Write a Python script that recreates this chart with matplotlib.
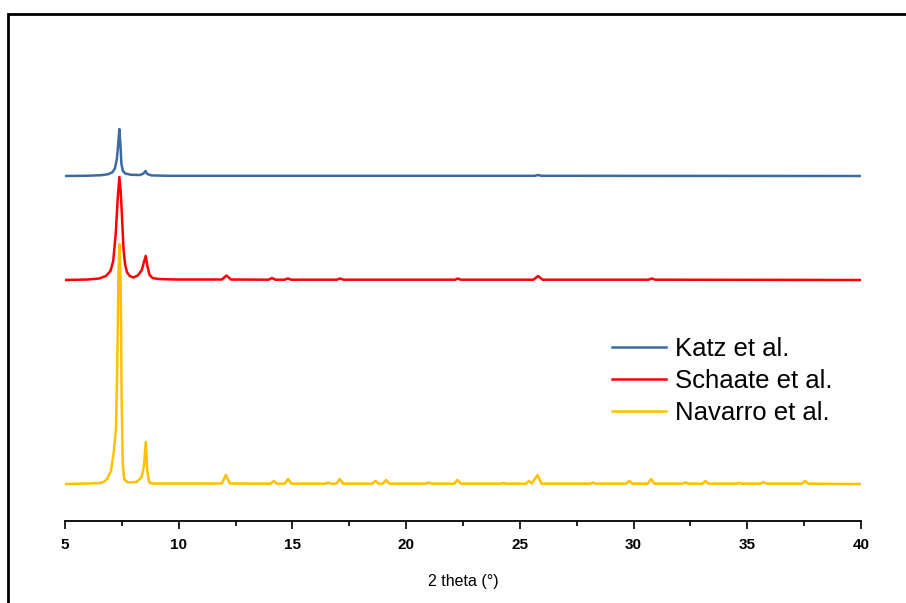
#!/usr/bin/env python3
import numpy as np
import matplotlib.pyplot as plt
from matplotlib.patches import Rectangle
from matplotlib.ticker import MultipleLocator

plt.rcParams["font.family"] = ["Liberation Sans", "DejaVu Sans"]

# XRD patterns: (2 theta, intensity a.u.)
katz = [
    (5.0, 0), (6.0, 0.3), (6.6, 0.8), (6.9, 1.8), (7.1, 4), (7.2, 8),
    (7.28, 17), (7.34, 32), (7.39, 47), (7.44, 30), (7.48, 12), (7.55, 5),
    (7.65, 2.5), (7.9, 1.2), (8.3, 1), (8.45, 2.5), (8.54, 5), (8.62, 2),
    (8.8, 0.6), (9.5, 0.2), (25.65, 0.2), (25.8, 1), (25.95, 0.2), (40.0, 0),
]
schaate = [
    (5.0, 0), (6.0, 0.5), (6.5, 1.5), (6.8, 4), (7.0, 9), (7.12, 19),
    (7.23, 46), (7.32, 82), (7.39, 103), (7.45, 88), (7.5, 66), (7.57, 32),
    (7.64, 16), (7.72, 8), (7.85, 4), (8.0, 2.5), (8.2, 4.5), (8.38, 10),
    (8.47, 18), (8.55, 24), (8.63, 13), (8.72, 5), (8.85, 2), (9.1, 1),
    (9.8, 0.5), (11.9, 0.5), (12.1, 4.5), (12.3, 0.5),
    (13.95, 0.3), (14.1, 2), (14.25, 0.3), (14.65, 0.3), (14.8, 1.5), (14.95, 0.3),
    (16.95, 0.3), (17.1, 1.5), (17.25, 0.3), (22.15, 0.3), (22.28, 1.5), (22.4, 0.3),
    (25.6, 0.3), (25.8, 4), (26.0, 0.3), (30.65, 0.3), (30.8, 1.5), (30.95, 0.3),
    (40.0, 0),
]
navarro = [
    (5.0, 0), (6.0, 0.5), (6.55, 1), (6.7, 2), (6.85, 5), (7.02, 13),
    (7.15, 33), (7.24, 55), (7.3, 120), (7.35, 210), (7.4, 240), (7.45, 195),
    (7.49, 85), (7.54, 20), (7.6, 5), (7.75, 1.5), (8.15, 2), (8.37, 7),
    (8.47, 18), (8.55, 42), (8.62, 13), (8.7, 2), (8.8, 0.5),
    (11.9, 0.5), (12.07, 9), (12.25, 0.5),
    (14.03, 0.3), (14.18, 3), (14.33, 0.3), (14.66, 0.3), (14.81, 5), (14.96, 0.3),
    (16.45, 0.3), (16.57, 1.5), (16.7, 0.3), (16.93, 0.3), (17.08, 5), (17.23, 0.3),
    (18.5, 0.3), (18.65, 3), (18.8, 0.3), (18.97, 0.3), (19.12, 4), (19.27, 0.3),
    (20.87, 0.3), (20.99, 1.5), (21.1, 0.3), (22.11, 0.3), (22.26, 4), (22.41, 0.3),
    (24.16, 0.3), (24.28, 1), (24.4, 0.3), (25.27, 0.3), (25.4, 3), (25.52, 0.5),
    (25.78, 9), (25.95, 0.3), (28.09, 0.3), (28.21, 1.5), (28.33, 0.3),
    (29.68, 0.3), (29.82, 3), (29.96, 0.3), (30.62, 0.3), (30.77, 5), (30.92, 0.3),
    (32.16, 0.3), (32.28, 1.5), (32.4, 0.3), (33.02, 0.3), (33.16, 3), (33.3, 0.3),
    (34.51, 0.3), (34.63, 1), (34.75, 0.3), (35.58, 0.3), (35.71, 2), (35.84, 0.3),
    (37.4, 0.3), (37.54, 3), (37.68, 0.3), (40.0, 0),
]

labels = ["Katz et al.", "Schaate et al.", "Navarro et al."]
offsets = [308, 204, 0]
colors = ["#3B6AA0", "#FF0000", "#FFC000"]
xticks = [5, 10, 15, 20, 25, 30, 35, 40]


def main():
    fig = plt.figure(figsize=(9.06, 6.03), dpi=100)
    ax = fig.add_axes([65 / 906, 1 - 521 / 603, 796 / 906, 491 / 603])

    for data, off, col, lab in zip([katz, schaate, navarro], offsets, colors, labels):
        arr = np.array(data)
        ax.plot(arr[:, 0], arr[:, 1] + off, color=col, lw=1.8, label=lab)

    ax.set_xlim(5, 40)
    ax.set_ylim(-37, 454)
    for side in ["left", "right", "top"]:
        ax.spines[side].set_visible(False)
    ax.spines["bottom"].set_linewidth(1.3)
    ax.set_yticks([])
    ax.set_xticks(xticks)
    ax.xaxis.set_minor_locator(MultipleLocator(2.5))
    ax.tick_params(axis="x", which="major", direction="out", length=6, width=1.2,
                   pad=6, labelsize=11)
    ax.tick_params(axis="x", which="minor", direction="out", length=3.5, width=1.2)
    for lbl in ax.get_xticklabels():
        lbl.set_fontweight("bold")
    ax.set_xlabel("2 theta (°)", fontsize=11.5, labelpad=16)

    ax.legend(loc="center left", bbox_to_anchor=(612 / 906, 1 - 381 / 603),
              bbox_transform=fig.transFigure, frameon=False, fontsize=18.5,
              handlelength=2.1, handletextpad=0.35, labelspacing=0.32,
              borderpad=0, borderaxespad=0)

    fig.add_artist(Rectangle((8 / 906, -0.2), 2, 1.2 - 14 / 603, transform=fig.transFigure,
                             fill=False, lw=2, edgecolor="black"))

    fig.savefig("out.png", dpi=100)
    plt.close(fig)


if __name__ == "__main__":
    main()
